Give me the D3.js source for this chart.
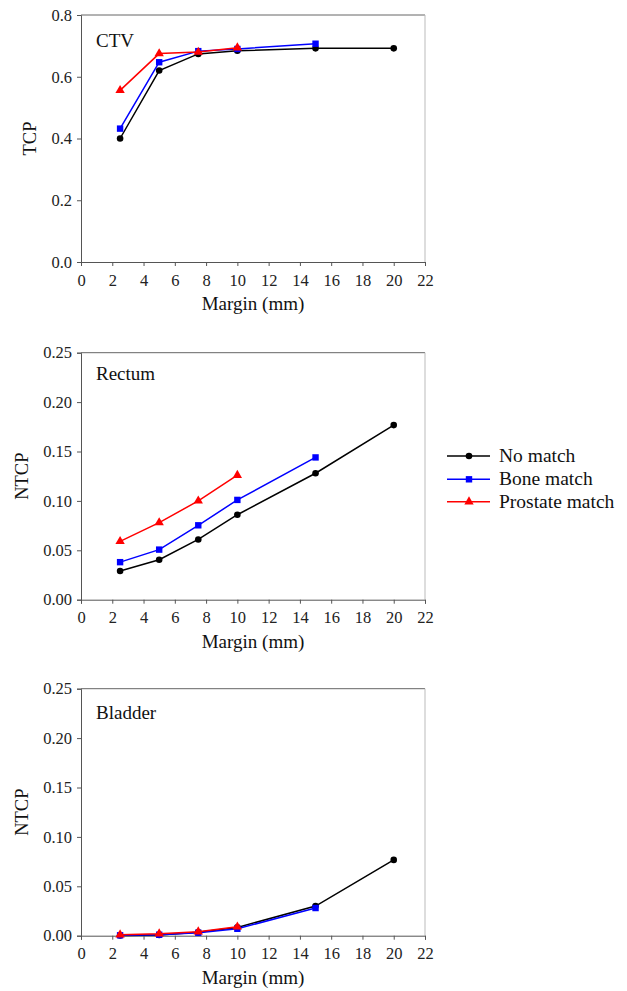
<!DOCTYPE html>
<html>
<head>
<meta charset="utf-8">
<script src="https://cdnjs.cloudflare.com/ajax/libs/d3/7.8.5/d3.min.js"></script>
<style>
  body { margin: 0; background: #fff; }
</style>
</head>
<body>
<div id="chart"></div>
<script>
// margins in mm
var margins = [2.5, 5, 7.5, 10, 15, 20];
var xTicks = [0, 2, 4, 6, 8, 10, 12, 14, 16, 18, 20, 22];

var seriesNames = ["No match", "Bone match", "Prostate match"];
var seriesColors = ["#000000", "#0000ff", "#ff0000"];
var seriesShapes = ["circle", "square", "triangle"];

// CTV - TCP
var ctvNoMatch = [0.40, 0.62, 0.674, 0.684, 0.692, 0.692];
var ctvBone = [0.432, 0.647, 0.683, 0.690, 0.707];
var ctvProstate = [0.556, 0.675, 0.680, 0.694];

// Rectum - NTCP
var rectumNoMatch = [0.029, 0.0405, 0.061, 0.086, 0.128, 0.1767];
var rectumBone = [0.038, 0.0507, 0.0753, 0.101, 0.144];
var rectumProstate = [0.059, 0.078, 0.100, 0.126];

// Bladder - NTCP
var bladderNoMatch = [0.0002, 0.0008, 0.0034, 0.0084, 0.030, 0.0767];
var bladderBone = [0.0004, 0.001, 0.003, 0.007, 0.028];
var bladderProstate = [0.001, 0.002, 0.004, 0.009];

var tcpTicks = [0, 0.2, 0.4, 0.6, 0.8];
var ntcpTicks = [0, 0.05, 0.10, 0.15, 0.20, 0.25];

var panels = [
  { label: "CTV", yTitle: "TCP", top: 15, labelY: 32, yMax: 0.8, yTicks: tcpTicks, fmt: ".1f",
    data: [ctvNoMatch, ctvBone, ctvProstate] },
  { label: "Rectum", yTitle: "NTCP", top: 352.7, labelY: 27.5, yMax: 0.25, yTicks: ntcpTicks, fmt: ".2f",
    data: [rectumNoMatch, rectumBone, rectumProstate] },
  { label: "Bladder", yTitle: "NTCP", top: 688.7, labelY: 30.5, yMax: 0.25, yTicks: ntcpTicks, fmt: ".2f",
    data: [bladderNoMatch, bladderBone, bladderProstate] }
];

var serif = "'Liberation Serif', 'Times New Roman', Times, serif";
var width = 627, height = 991;
var plotLeft = 81, plotRight = 425, plotH = 247;

var svg = d3.select("#chart").append("svg")
  .attr("width", width)
  .attr("height", height)
  .style("font-family", serif);

var x = d3.scaleLinear().domain([0, 22]).range([plotLeft, plotRight]);

function drawMarker(g, shape, color, cx, cy) {
  if (shape === "circle") {
    g.append("circle").attr("cx", cx).attr("cy", cy).attr("r", 3.3).attr("fill", color);
  } else if (shape === "square") {
    g.append("rect").attr("x", cx - 3.2).attr("y", cy - 3.2)
      .attr("width", 6.4).attr("height", 6.4).attr("fill", color);
  } else {
    g.append("path")
      .attr("d", d3.symbol().type(d3.symbolTriangle).size(38)())
      .attr("transform", "translate(" + cx + "," + cy + ")")
      .attr("fill", color);
  }
}

function addText(g) {
  return g.append("text").style("font-family", serif).attr("fill", "#111");
}

panels.forEach(function(p) {
  var y = d3.scaleLinear().domain([0, p.yMax]).range([p.top + plotH, p.top]);
  var g = svg.append("g");

  // frame: top and right
  g.append("line").attr("x1", plotLeft).attr("x2", plotRight)
    .attr("y1", p.top).attr("y2", p.top)
    .attr("stroke", "#666").attr("stroke-width", 1);
  g.append("line").attr("x1", plotRight).attr("x2", plotRight)
    .attr("y1", p.top).attr("y2", p.top + plotH)
    .attr("stroke", "#bbb").attr("stroke-width", 1);

  var xAxis = g.append("g")
    .attr("transform", "translate(0," + (p.top + plotH) + ")")
    .call(d3.axisBottom(x).tickValues(xTicks).tickSize(4).tickPadding(8).tickFormat(d3.format("d")));
  var yAxis = g.append("g")
    .attr("transform", "translate(" + plotLeft + ",0)")
    .call(d3.axisLeft(y).tickValues(p.yTicks).tickSize(4).tickPadding(5).tickFormat(d3.format(p.fmt)));

  [xAxis, yAxis].forEach(function(a) {
    a.attr("font-family", null).attr("font-size", null);
    a.select(".domain").attr("stroke", "#555");
    a.selectAll(".tick line").attr("stroke", "#555");
    a.selectAll(".tick text")
      .style("font-family", serif)
      .style("font-size", "16.5px")
      .attr("fill", "#222");
  });

  addText(g)
    .attr("x", (plotLeft + plotRight) / 2)
    .attr("y", p.top + plotH + 48)
    .attr("text-anchor", "middle")
    .style("font-size", "19px")
    .text("Margin (mm)");

  addText(g)
    .attr("transform", "translate(" + (p.yTitle === "TCP" ? 36 : 28) + "," + (p.top + plotH / 2) + ") rotate(-90)")
    .attr("text-anchor", "middle")
    .style("font-size", "18.5px")
    .text(p.yTitle);

  addText(g)
    .attr("x", 96)
    .attr("y", p.top + p.labelY)
    .style("font-size", "19px")
    .text(p.label);

  var line = d3.line()
    .x(function(d, i) { return x(margins[i]); })
    .y(function(d) { return y(d); });

  p.data.forEach(function(vals, s) {
    g.append("path")
      .datum(vals)
      .attr("d", line)
      .attr("fill", "none")
      .attr("stroke", seriesColors[s])
      .attr("stroke-width", 1.5);
    vals.forEach(function(v, i) {
      drawMarker(g, seriesShapes[s], seriesColors[s], x(margins[i]), y(v));
    });
  });
});

// legend
var legendY = [456, 479.3, 501.7];
var lg = svg.append("g");
seriesNames.forEach(function(name, s) {
  lg.append("line")
    .attr("x1", 447).attr("x2", 490)
    .attr("y1", legendY[s]).attr("y2", legendY[s])
    .attr("stroke", seriesColors[s]).attr("stroke-width", 1.5);
  drawMarker(lg, seriesShapes[s], seriesColors[s], 469, legendY[s]);
  addText(lg)
    .attr("x", 499)
    .attr("y", legendY[s] + 6)
    .style("font-size", "19.5px")
    .text(name);
});
</script>
</body>
</html>
